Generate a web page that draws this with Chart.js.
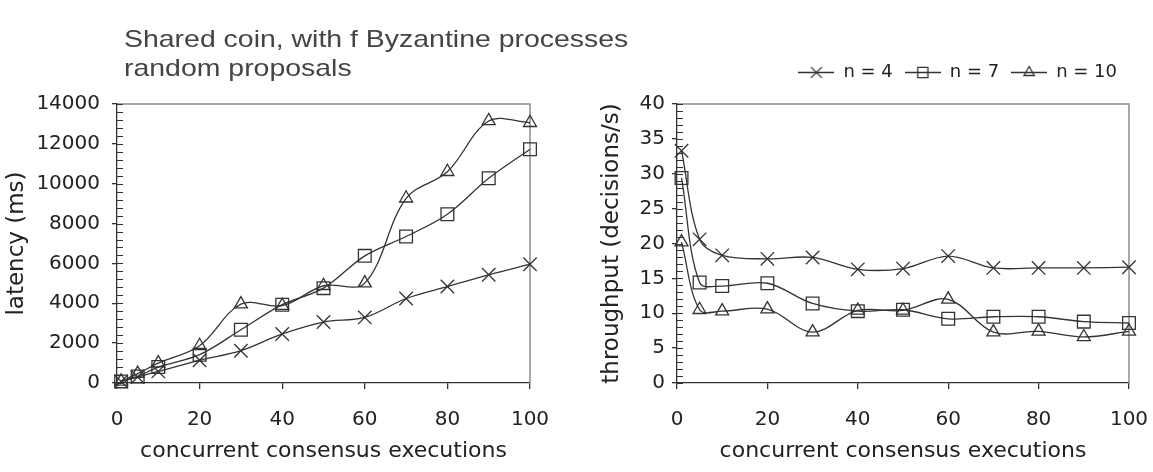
<!DOCTYPE html>
<html>
<head>
<meta charset="utf-8">
<script src="https://cdn.jsdelivr.net/npm/chart.js@4"></script>
<style>
  body { margin: 0; background: #fff; }
  #wrap { position: relative; width: 1153px; height: 472px; overflow: hidden; background: #fff; }
  #title { position: absolute; left: 124px; top: 24px; font-family: 'Liberation Sans', Arial, sans-serif; font-size: 24px; line-height: 29px; color: #444; white-space: nowrap; transform: scaleX(1.185); transform-origin: 0 0; z-index: 2; }
  #left { position: absolute; left: 0; top: 0; }
  #right { position: absolute; left: 570px; top: 0; }
</style>
</head>
<body>
<div id="wrap">
  <div id="title">Shared coin, with f Byzantine processes<br>random proposals</div>
  <canvas id="left" width="570" height="472"></canvas>
  <canvas id="right" width="583" height="472"></canvas>
</div>
<script>
// số lần thực thi đồng thời
const xValues = [1, 5, 10, 20, 30, 40, 50, 60, 70, 80, 90, 100];
const xTicks = [0, 20, 40, 60, 80, 100];

// độ trễ (ms)
const latencyN4 = [80, 300, 580, 1140, 1620, 2460, 3060, 3290, 4240, 4840, 5430, 5960];
const latencyN7 = [80, 330, 800, 1420, 2670, 3930, 4760, 6380, 7350, 8470, 10270, 11730];
const latencyN10 = [80, 470, 1000, 1870, 3960, 3880, 4880, 5010, 9270, 10600, 13150, 13060];
const latencyTicks = [0, 2000, 4000, 6000, 8000, 10000, 12000, 14000];

// thông lượng (decisions/s)
const throughputN4 = [33.3, 20.6, 18.3, 17.8, 18.0, 16.3, 16.4, 18.2, 16.5, 16.5, 16.5, 16.6];
const throughputN7 = [29.4, 14.4, 13.9, 14.3, 11.4, 10.3, 10.5, 9.2, 9.5, 9.5, 8.8, 8.6];
const throughputN10 = [20.2, 10.5, 10.3, 10.6, 7.3, 10.4, 10.4, 12.0, 7.3, 7.4, 6.6, 7.4];
const throughputTicks = [0, 5, 10, 15, 20, 25, 30, 35, 40];

const seriesNames = ['n = 4', 'n = 7', 'n = 10'];
const markers = ['crossRot', 'rect', 'triangle'];
const markerSizes = [9.5, 9, 7.5];

const INK = '#333';
const TEXT = '#222';
const FONT = 'DejaVu Sans';

function makeDatasets(series) {
    return series.map((values, i) => ({
        label: seriesNames[i],
        data: xValues.map((x, j) => ({ x: x, y: values[j] })),
        borderColor: INK,
        borderWidth: 1.3,
        tension: 0.35,
        pointStyle: markers[i],
        pointRadius: markerSizes[i],
        pointBorderColor: INK,
        pointBorderWidth: 1.3,
        pointBackgroundColor: 'rgba(0,0,0,0)',
        clip: false
    }));
}

function xScale() {
    return {
        type: 'linear',
        min: 0,
        max: 100,
        afterBuildTicks: s => { s.ticks = xTicks.map(v => ({ value: v })); },
        afterFit: s => {
            s.height = 89;
            s.paddingLeft = 0;
            s.paddingRight = 0;
        },
        border: { display: true, color: INK, width: 1.3 },
        grid: { drawOnChartArea: false, drawTicks: true, tickLength: 6, color: INK, lineWidth: 1.3 },
        ticks: { padding: 19, color: TEXT, font: { family: FONT, size: 20 }, maxRotation: 0, callback: v => String(v) },
        title: {
            display: true, text: 'concurrent consensus executions', color: TEXT,
            font: { family: FONT, size: 22 }, padding: { top: 8, bottom: 8 }
        }
    };
}

function yScale(ticks, title, width, titlePad, labelPad) {
    return {
        type: 'linear',
        min: ticks[0],
        max: ticks[ticks.length - 1],
        afterBuildTicks: s => { s.ticks = ticks.map(v => ({ value: v })); },
        afterFit: s => { s.width = width; },
        border: { display: true, color: INK, width: 1.3 },
        grid: { drawOnChartArea: false, drawTicks: true, tickLength: 5, color: INK, lineWidth: 1.3 },
        ticks: { padding: labelPad, color: TEXT, font: { family: FONT, size: 20 }, callback: v => String(v) },
        title: {
            display: true, text: title, color: TEXT,
            font: { family: FONT, size: 23 }, padding: { top: titlePad, bottom: titlePad }
        }
    };
}

// khung xám + vạch phụ trên trục tung
const axisDecor = {
    id: 'axisDecor',
    beforeDatasetsDraw(chart, args, opts) {
        const { ctx, chartArea: a, scales: { y } } = chart;
        ctx.save();
        ctx.strokeStyle = '#8c8c8c';
        ctx.lineWidth = 1.5;
        ctx.beginPath();
        ctx.moveTo(a.left, a.top);
        ctx.lineTo(a.right, a.top);
        ctx.lineTo(a.right, a.bottom);
        ctx.stroke();

        ctx.strokeStyle = INK;
        ctx.lineWidth = 1;
        ctx.beginPath();
        const n = Math.round((y.max - y.min) / opts.minorStep);
        for (let i = 0; i <= n; i++) {
            const py = Math.round(y.getPixelForValue(y.min + i * opts.minorStep)) + 0.5;
            ctx.moveTo(a.left, py);
            ctx.lineTo(a.left + 6, py);
        }
        ctx.stroke();
        ctx.restore();
    }
};

// biểu tượng chú thích: đoạn thẳng + marker rỗng
function legendSymbol(i) {
    const c = document.createElement('canvas');
    c.width = 36; c.height = 18;
    const ctx = c.getContext('2d');
    ctx.strokeStyle = INK;
    ctx.fillStyle = 'rgba(0,0,0,0)';
    ctx.lineWidth = 1.3;
    ctx.beginPath();
    ctx.moveTo(0, 9.5); ctx.lineTo(36, 9.5);
    ctx.stroke();
    Chart.helpers.drawPoint(ctx, {
        pointStyle: markers[i], radius: markerSizes[i] * 0.8, rotation: 0, borderWidth: 1.3
    }, 18, 9.5);
    return c;
}

// nới khoảng cách giữa chú thích và vùng vẽ
const legendGap = {
    id: 'legendGap',
    beforeInit(chart) {
        if (!chart.legend) return;
        const fit = chart.legend.fit;
        chart.legend.fit = function () { fit.call(this); this.height += 13; };
    }
};

new Chart(document.getElementById('left'), {
    type: 'line',
    data: { datasets: makeDatasets([latencyN4, latencyN7, latencyN10]) },
    options: {
        responsive: false,
        animation: false,
        layout: { padding: { left: 0, top: 104, right: 40, bottom: 0 } },
        plugins: { legend: { display: false }, tooltip: { enabled: false }, axisDecor: { minorStep: 400 } },
        scales: {
            x: xScale(),
            y: yScale(latencyTicks, 'latency (ms)', 117, 3, 12)
        }
    },
    plugins: [axisDecor]
});

new Chart(document.getElementById('right'), {
    type: 'line',
    data: { datasets: makeDatasets([throughputN4, throughputN7, throughputN10]) },
    options: {
        responsive: false,
        animation: false,
        layout: { padding: { left: 0, top: 51, right: 24, bottom: 0 } },
        plugins: {
            tooltip: { enabled: false },
            axisDecor: { minorStep: 1 },
            legend: {
                position: 'top',
                align: 'end',
                labels: {
                    usePointStyle: true,
                    pointStyleWidth: 36,
                    boxHeight: 18,
                    padding: 12,
                    color: TEXT,
                    font: { family: FONT, size: 18 },
                    generateLabels: chart => chart.data.datasets.map((ds, i) => ({
                        text: ds.label,
                        pointStyle: legendSymbol(i),
                        fontColor: TEXT,
                        strokeStyle: INK,
                        lineWidth: 0,
                        datasetIndex: i
                    }))
                }
            }
        },
        scales: {
            x: xScale(),
            y: yScale(throughputTicks, 'throughput (decisions/s)', 107, 28, 7)
        }
    },
    plugins: [axisDecor, legendGap]
});
</script>
</body>
</html>
